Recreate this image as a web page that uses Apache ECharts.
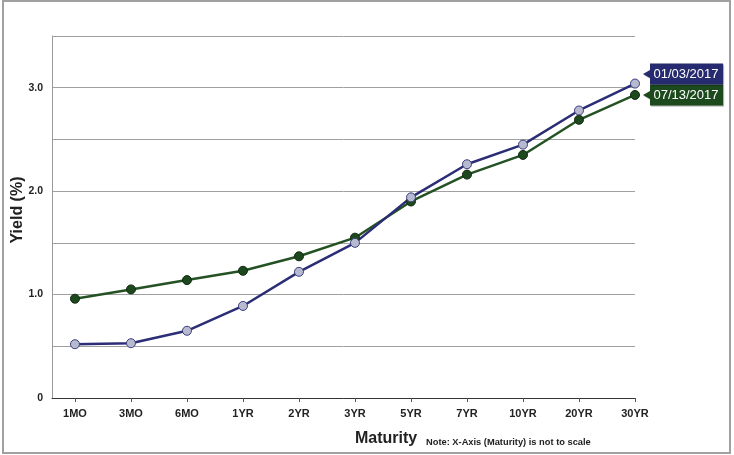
<!DOCTYPE html>
<html>
<head>
<meta charset="utf-8">
<script src="https://cdn.jsdelivr.net/npm/echarts@6/dist/echarts.min.js"></script>
<style>
  html, body { margin: 0; padding: 0; background: #fff; }
  #chart { width: 734px; height: 455px; }
</style>
</head>
<body>
<div id="chart"></div>
<script>
// maturities on the x axis (not to scale)
var maturities = ['1MO', '3MO', '6MO', '1YR', '2YR', '3YR', '5YR', '7YR', '10YR', '20YR', '30YR']
// yields in %
var yieldsJan = [0.52, 0.53, 0.65, 0.89, 1.22, 1.50, 1.94, 2.26, 2.45, 2.78, 3.04]
var yieldsJul = [0.96, 1.05, 1.14, 1.23, 1.37, 1.55, 1.90, 2.16, 2.35, 2.69, 2.93]
var dates = ['01/03/2017', '07/13/2017']
var yTicks = [0, 1, 2, 3]

var blue = '#2b2d76'
var green = '#245224'
var idx = maturities.map(function (m, i) { return i })

function pairs (arr) {
  return arr.map(function (v, i) { return [i, v] })
}

// left-pointing callout box
var callout = 'path://M0,10.5 L7,6.5 L7,0 L80,0 L80,21 L7,21 L7,14.5 Z'

function endTag (arr, text, color, dy) {
  return {
    symbol: callout,
    symbolSize: [80, 21],
    symbolKeepAspect: false,
    symbolOffset: [48, dy],
    itemStyle: {
      color: color,
      shadowColor: 'rgba(0,0,0,0.35)',
      shadowOffsetX: 1,
      shadowOffsetY: 1,
      shadowBlur: 1
    },
    label: {
      show: true,
      position: 'inside',
      offset: [3, 0],
      formatter: text,
      color: '#fff',
      fontSize: 13,
      fontFamily: 'Liberation Sans, Arial, sans-serif'
    },
    data: [{ coord: [arr.length - 1, arr[arr.length - 1]] }],
    silent: true,
    animation: false
  }
}

var chart = echarts.init(document.getElementById('chart'))
chart.setOption({
  animation: false,
  grid: { left: 52, right: 99, top: 36, bottom: 57, outerBoundsMode: 'none' },
  xAxis: {
    type: 'value',
    min: -0.41,
    max: 10,
    axisLine: { onZero: false, lineStyle: { color: '#333', width: 1 } },
    axisTick: { show: true, customValues: idx, length: 4, lineStyle: { color: '#555' } },
    axisLabel: {
      customValues: idx,
      formatter: function (v) { return maturities[Math.round(v)] },
      fontWeight: 'bold',
      fontSize: 11,
      color: '#222',
      margin: 10,
      fontFamily: 'Liberation Sans, Arial, sans-serif'
    },
    splitLine: { show: false }
  },
  yAxis: {
    type: 'value',
    min: 0,
    max: 3.5,
    interval: 0.5,
    axisLine: { show: true, onZero: false, lineStyle: { color: '#999' } },
    axisTick: { show: false },
    axisLabel: {
      formatter: function (v) {
        if (yTicks.indexOf(v) < 0) return ''
        return v === 0 ? '0' : v.toFixed(1)
      },
      fontWeight: 'bold',
      fontSize: 10.5,
      color: '#222',
      margin: 9,
      fontFamily: 'Liberation Sans, Arial, sans-serif'
    },
    splitLine: { lineStyle: { color: '#a0a0a0', width: 1 } }
  },
  series: [
    {
      name: dates[1],
      type: 'line',
      data: pairs(yieldsJul),
      symbol: 'circle',
      symbolSize: 9,
      lineStyle: { color: green, width: 2.5 },
      itemStyle: { color: '#1d481d', borderColor: '#0e2a0e', borderWidth: 1 },
      markPoint: endTag(yieldsJul, dates[1], '#1c4a1c', 0)
    },
    {
      name: dates[0],
      type: 'line',
      data: pairs(yieldsJan),
      symbol: 'circle',
      symbolSize: 9,
      lineStyle: { color: blue, width: 2.5 },
      itemStyle: { color: '#b7bace', borderColor: '#3a3c80', borderWidth: 1 },
      markPoint: endTag(yieldsJan, dates[0], '#262a6e', -9.5)
    }
  ],
  graphic: [
    {
      type: 'rect',
      shape: { x: 3, y: 1, width: 727, height: 452 },
      style: { fill: 'none', stroke: '#a0a0a0', lineWidth: 2 },
      silent: true
    },
    {
      type: 'text',
      x: 18,
      y: 210,
      rotation: Math.PI / 2,
      style: {
        text: 'Yield (%)',
        font: 'bold 16px Liberation Sans, Arial, sans-serif',
        fill: '#222',
        align: 'center',
        verticalAlign: 'middle'
      }
    },
    {
      type: 'text',
      left: 355,
      top: 431,
      style: {
        text: 'Maturity',
        font: 'bold 16px Liberation Sans, Arial, sans-serif',
        fill: '#222'
      }
    },
    {
      type: 'text',
      left: 426,
      top: 438,
      style: {
        text: 'Note: X-Axis (Maturity) is not to scale',
        font: 'bold 9.3px Liberation Sans, Arial, sans-serif',
        fill: '#222'
      }
    }
  ]
})
</script>
</body>
</html>
